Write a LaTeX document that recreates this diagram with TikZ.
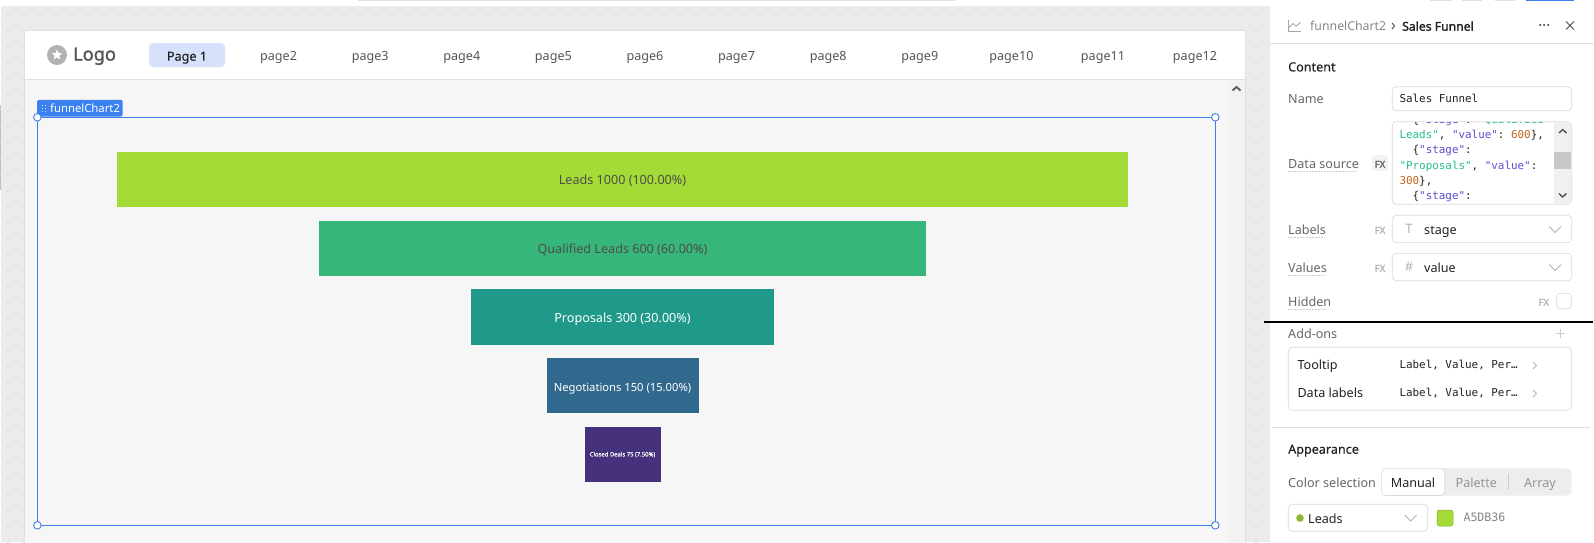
\documentclass[tikz,border=0pt]{standalone}
\usepackage{fontspec}
\setmainfont{Noto Sans}
\setmonofont{DejaVu Sans Mono}
\newfontfamily\semi{Noto Sans}[FakeBold=0.35]
\newfontfamily\heavy{Noto Sans}[FakeBold=1.6]
\usetikzlibrary{shapes.geometric}
\definecolor{canvas}{HTML}{EBEBEB}
\definecolor{content}{HTML}{F6F6F6}
\definecolor{scrolltrack}{HTML}{F2F2F2}
\definecolor{rim}{HTML}{DFDFDF}
\definecolor{griddot}{HTML}{DCDCDC}
\definecolor{selblue}{HTML}{3F7FE8}
\definecolor{tagblue}{HTML}{3B82F0}
\definecolor{pill}{HTML}{D6E2FB}
\definecolor{lab}{HTML}{666666}
\definecolor{ink}{HTML}{222222}
\definecolor{navtext}{HTML}{555555}
\definecolor{fxlight}{HTML}{B5B5B5}
\definecolor{fieldrim}{HTML}{DADADA}
\definecolor{fA}{HTML}{A5DB36}
\definecolor{fB}{HTML}{37B679}
\definecolor{fC}{HTML}{1F998A}
\definecolor{fD}{HTML}{31688E}
\definecolor{fE}{HTML}{46317C}
\definecolor{jkey}{HTML}{5B4FCF}
\definecolor{jstr}{HTML}{22BF90}
\definecolor{jnum}{HTML}{C4651E}
\newcommand{\px}[1]{\fontsize{#1}{#1}\selectfont}
\newcommand{\jk}[1]{\textcolor{jkey}{#1}}
\newcommand{\js}[1]{\textcolor{jstr}{#1}}
\newcommand{\jn}[1]{\textcolor{jnum}{#1}}
\newcommand{\chevdown}[2]{\draw[gray!70,line width=.7pt] (#1-6,#2-3) -- (#1,#2+3) -- (#1+6,#2-3);}
\newcommand{\chevright}[2]{\draw[fxlight,line width=.9pt] (#1-2,#2-3.5) -- (#1+1.5,#2) -- (#1-2,#2+3.5);}
\tikzset{
  x=1pt,y=-1pt,
  even/.style={text height=11pt,text depth=1.6pt,inner sep=0pt},
  bar/.style={anchor=north west,minimum height=55.3pt,inner sep=0pt,outer sep=0pt},
  bartext/.style={even,font=\px{12.6},yshift=-.7pt},
  navlink/.style={even,font=\px{12.6},text=navtext},
  plabel/.style={even,font=\px{12.6},text=lab,anchor=west},
  ptext/.style={even,font=\px{12.6},text=ink,anchor=west},
  phead/.style={even,font=\semi\px{12.6},text=ink,anchor=west},
  monotext/.style={text height=9.5pt,text depth=2.7pt,inner sep=0pt,font=\ttfamily\px{10.9},anchor=west},
  fieldbox/.style={draw=fieldrim,fill=white,rounded corners=4pt,line width=.7pt},
  fxmark/.style={even,font=\heavy\px{9.5},text=fxlight},
  under/.style={draw=gray!40,dash pattern=on 1.5pt off 1.5pt,line width=.5pt},
  handle/.style={circle,draw=selblue,fill=white,line width=.9pt,minimum size=7.5pt,inner sep=0pt},
}
\begin{document}
\begin{tikzpicture}
\useasboundingbox (0,0) rectangle (1594,542);
\fill[white] (0,0) rectangle (1594,542);
% canvas
\fill[canvas] (1,6) rectangle (1270,542);
\fill[griddot!70!black!60!white] (0,105) rectangle (1,190);
\foreach \i in {0,...,78}{\foreach \j in {0,...,33}{
  \fill[griddot] ({8+16*\i-1},{15+16*\j-1}) rectangle ++(2,2);}}
% top strip
\fill[rim] (358,0) rectangle (955,1);
\fill[rim] (1430,0) rectangle (1452,1);
\fill[rim] (1462,0) rectangle (1482,1);
\fill[rim] (1495,0) rectangle (1515,1);
\fill[tagblue] (1526,0) rectangle (1574,1);
% app frame
\filldraw[fill=white,draw=rim,line width=.7pt] (24.5,30.7) rectangle (1245.5,79.5);
\filldraw[fill=content,draw=rim,line width=.7pt] (24.5,79.5) rectangle (1245.5,543);
\fill[scrolltrack] (1228,80) rectangle (1245,542);
\draw[black!65,line width=1.8pt] (1232.5,90.5) -- (1236.5,87) -- (1240.5,90.5);
% logo
\node[circle,fill=gray!60,minimum size=20pt,inner sep=0pt] (logoicon) at (57,55) {};
\node[star,star points=5,star point ratio=2.3,fill=white,minimum size=11pt,inner sep=0pt] (logostar) at (57,55) {};
\node[font=\heavy\px{18.2},text=navtext,inner sep=0pt,text height=13pt,text depth=4pt,anchor=west] (logotext) at (73,56) {Logo};
% nav
\node[fill=pill,rounded corners=4pt,minimum width=76pt,minimum height=24pt,inner sep=0pt] (navpill) at (187,55) {};
\node[even,font=\semi\px{12.6},text=ink] (nav1) at (187,56) {Page 1};
\foreach \n/\x in {2/278.6,3/370.2,4/461.8,5/553.4,6/645,7/736.6,8/828.2,9/919.8,10/1011.4,11/1103,12/1195}
  \node[navlink] (nav\n) at (\x,56) {page\n};
% selection
\draw[selblue,line width=.9pt] (37.4,117.3) rectangle (1215.3,525.3);
\node[fill=tagblue,rounded corners=1.5pt,anchor=north west,minimum width=85.5pt,minimum height=16.6pt,inner sep=0pt] (tag) at (37,99.7) {};
\foreach \k in {0,1,2}{\fill[white!70!tagblue] (42.3,{104.5+3*\k}) rectangle ++(1,1.2);\fill[white!70!tagblue] (45,{104.5+3*\k}) rectangle ++(1,1.2);}
\node[even,font=\px{11.3},text=white,anchor=west] (tagtext) at (50,108) {funnelChart2};
\node[handle] (h1) at (37.4,117.3) {};
\node[handle] (h2) at (1215.3,117.3) {};
\node[handle] (h3) at (37.4,525.3) {};
\node[handle] (h4) at (1215.3,525.3) {};
% funnel
\node[bar,fill=fA,minimum width=1011pt] (b1) at (117,151.8) {};
\node[bar,fill=fB,minimum width=606.6pt] (b2) at (319.2,220.6) {};
\node[bar,fill=fC,minimum width=303.3pt] (b3) at (470.85,289.4) {};
\node[bar,fill=fD,minimum width=152pt] (b4) at (546.5,358) {};
\node[bar,fill=fE,minimum width=76pt] (b5) at (584.5,427) {};
\node[bartext,text=black!70] (t1) at (b1.center) {Leads 1000 (100.00\%)};
\node[bartext,text=black!70] (t2) at (b2.center) {Qualified Leads 600 (60.00\%)};
\node[bartext,text=white] (t3) at (b3.center) {Proposals 300 (30.00\%)};
\node[bartext,font=\px{11.2},text=white] (t4) at (b4.center) {Negotiations 150 (15.00\%)};
\node[font=\semi\px{5.9},text=white,inner sep=0pt] (t5) at (b5.center) {Closed Deals 75 (7.50\%)};
% right panel
\fill[white] (1270,6) rectangle (1594,542);
\draw[black!12,line width=.7pt] (1270,43.3) -- (1594,43.3);
\draw[gray!70,line width=.8pt] (1288,19.5) -- (1288,31) -- (1300.5,31);
\draw[gray!70,line width=.8pt] (1289,27.5) -- (1293,23.5) -- (1296,26) -- (1300.5,22.5);
\node[even,font=\px{12.3},text=gray!95,anchor=west] (crumb) at (1310,26) {funnelChart2};
\draw[black!75,line width=.9pt] (1392,23) -- (1394.5,26) -- (1392,29);
\node[even,font=\heavy\px{12.2},text=ink,anchor=west] (crumbname) at (1402,26) {Sales Funnel};
\foreach \x in {1540,1544,1548} \fill[ink] (\x,25) circle (1pt);
\draw[black!70,line width=.8pt] (1566,21.5) -- (1574,29.5) (1574,21.5) -- (1566,29.5);
\node[phead] (content) at (1288,66.7) {Content};
% name
\node[plabel] (lname) at (1288,98.7) {Name};
\draw[fieldbox] (1392.3,86.7) rectangle (1571.7,110.7);
\node[monotext,text=ink] (vname) at (1399.3,99.5) {Sales Funnel};
% data source
\node[plabel] (lsource) at (1288,163.7) {Data source};
\draw[under] (1288,171.7) -- (1356,171.7);
\node[fill=gray!10,rounded corners=2.5pt,minimum width=16pt,minimum height=16pt,inner sep=0pt] (fxbg) at (1380,163) {};
\node[fxmark,text=lab] (fx1) at (1380,163) {FX};
\draw[fieldbox] (1392.3,121.7) rectangle (1571.7,204.3);
\begin{scope}
\clip (1393,122.2) rectangle (1554,203.8);
\node[monotext,text=ink] (c0) at (1399.3,119.7) {\ \ \{\jk{"stage"}: \js{"Qualified}};
\node[monotext,text=ink] (c1) at (1399.3,135) {\js{Leads"}, \jk{"value"}: \jn{600}\},};
\node[monotext,text=ink] (c2) at (1399.3,150.3) {\ \ \{\jk{"stage"}:};
\node[monotext,text=ink] (c3) at (1399.3,165.7) {\js{"Proposals"}, \jk{"value"}:};
\node[monotext,text=ink] (c4) at (1399.3,181) {\jn{300}\},};
\node[monotext,text=ink] (c5) at (1399.3,196.3) {\ \ \{\jk{"stage"}:};
\end{scope}
\fill[black!6] (1554,122.2) rectangle (1571.3,203.8);
\fill[black!22] (1554,152) rectangle (1571.3,169);
\draw[black!70,line width=1.3pt] (1559,133) -- (1562.7,129.5) -- (1566.4,133);
\draw[black!70,line width=1.3pt] (1559,193.5) -- (1562.7,197) -- (1566.4,193.5);
% labels
\node[plabel] (llabels) at (1288,229.7) {Labels};
\draw[under] (1288,237.3) -- (1325,237.3);
\node[fxmark] (fx2) at (1380,229) {FX};
\draw[fieldbox] (1392.3,215.3) rectangle (1571.7,242.7);
\node[even,font=\px{13},text=fxlight] (tico) at (1409,229) {T};
\node[ptext] (vlabels) at (1424,229.7) {stage};
\chevdown{1555}{229.5}
% values
\node[plabel] (lvalues) at (1288,267.7) {Values};
\draw[under] (1288,275.3) -- (1325,275.3);
\node[fxmark] (fx3) at (1380,267) {FX};
\draw[fieldbox] (1392.3,253.3) rectangle (1571.7,280.7);
\node[even,font=\px{13},text=fxlight] (hico) at (1409,267) {\#};
\node[ptext] (vvalues) at (1424,267.7) {value};
\chevdown{1555}{267.5}
% hidden
\node[plabel] (lhidden) at (1288,301.7) {Hidden};
\draw[under] (1288,309.3) -- (1327,309.3);
\node[fxmark] (fx4) at (1543.7,301) {FX};
\draw[fieldbox] (1556.3,293.3) rectangle (1571.7,308.7);
\draw[black,line width=2pt] (1264,321.7) -- (1593,321.7);
% add-ons
\node[plabel] (laddons) at (1288,333.7) {Add-ons};
\draw[fxlight!70,line width=.7pt] (1555.5,333.3) -- (1564.5,333.3) (1560,328.8) -- (1560,337.8);
\draw[fieldbox] (1288.3,347.3) rectangle (1571.7,410.3);
\node[ptext] (ltool) at (1297.3,365) {Tooltip};
\node[ptext] (ldata) at (1297.3,393.2) {Data labels};
\node[monotext,text=ink] (vtool) at (1399.3,365.3) {Label, Value, Per…};
\node[monotext,text=ink] (vdata) at (1399.3,393.3) {Label, Value, Per…};
\chevright{1535}{365.5}
\chevright{1535}{393.5}
\draw[black!12,line width=.7pt] (1272,427.3) -- (1590,427.3);
% appearance
\node[phead] (lappear) at (1288,449) {Appearance};
\node[plabel] (lcolor) at (1288,482.7) {Color selection};
\fill[black!7,rounded corners=5pt] (1381.3,468.3) rectangle (1571.7,495.7);
\draw[fieldbox] (1381.6,468.6) rectangle (1444.7,495.4);
\node[even,font=\px{12.6},text=ink] (manual) at (1413,482.7) {Manual};
\node[even,font=\px{12.6},text=gray!85] (palette) at (1476.3,482.7) {Palette};
\draw[black!20,line width=.6pt] (1508.3,474) -- (1508.3,490);
\node[even,font=\px{12.6},text=gray!85] (array) at (1540,482.7) {Array};
\draw[fieldbox] (1288.3,504.3) rectangle (1427.7,531.3);
\fill[fA!85!black] (1300,518) circle (3.8pt);
\node[ptext] (vleads) at (1308,518.5) {Leads};
\chevdown{1410.7}{518}
\filldraw[fill=fA,draw=fA!80!black,line width=.5pt,rounded corners=2.5pt] (1437,510) rectangle (1453,526);
\node[monotext,font=\ttfamily\px{11.6},text=gray!95] (hex) at (1463.3,518) {A5DB36};
\end{tikzpicture}
\end{document}
